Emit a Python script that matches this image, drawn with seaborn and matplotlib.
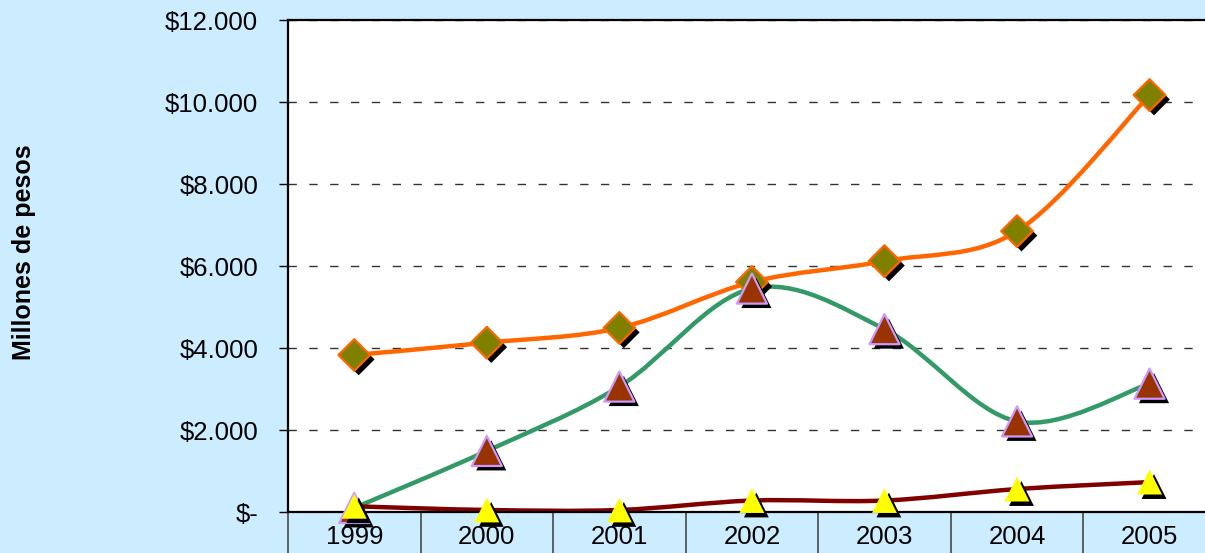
import numpy as np
import matplotlib
matplotlib.use('Agg')
import matplotlib.pyplot as plt
import matplotlib.patheffects as pe
from matplotlib.path import Path
from matplotlib.patches import PathPatch
from matplotlib.ticker import FuncFormatter, FixedLocator
import seaborn as sns

# data (millones de pesos)
years = ['1999', '2000', '2001', '2002', '2003', '2004', '2005']
serie_naranja = [3830, 4130, 4490, 5610, 6120, 6850, 10170]
serie_verde = [100, 1490, 3060, 5450, 4460, 2210, 3130]
serie_roja = [140, 50, 50, 280, 280, 560, 730]

y_ticks = [0, 2000, 4000, 6000, 8000, 10000, 12000]


def smooth_path(xs, ys):
    # Excel-style smoothed line (cubic bezier through the points)
    pts = np.column_stack([xs, ys]).astype(float)
    n = len(pts)
    verts = [pts[0]]
    codes = [Path.MOVETO]
    for i in range(n - 1):
        p0 = pts[i - 1] if i > 0 else pts[i]
        p1 = pts[i]
        p2 = pts[i + 1]
        p3 = pts[i + 2] if i + 2 < n else pts[i + 1]
        verts += [p1 + (p2 - p0) / 6, p2 - (p3 - p1) / 6, p2]
        codes += [Path.CURVE4] * 3
    return Path(verts, codes)


def fmt_pesos(v, pos):
    if v == 0:
        return '$-'
    return '$' + f'{int(v):,}'.replace(',', '.')


def main():
    sns.set_style('white')
    plt.rcParams['font.family'] = ['Liberation Sans', 'DejaVu Sans']
    plt.rcParams['text.color'] = 'black'
    plt.rcParams['axes.labelcolor'] = 'black'

    fig = plt.figure(figsize=(12.05, 5.53), dpi=100, facecolor='#CCECFF')
    ax = fig.add_axes([0.239, 0.0741, 0.770, 0.8897])
    ax.set_facecolor('white')

    x = np.arange(len(years))
    series = [
        (serie_naranja, '#FF6600', 'D', 260, '#808000', '#FF6600', 1.6),
        (serie_verde, '#339966', '^', 470, '#993300', '#CC99FF', 1.6),
        (serie_roja, '#800000', '^', 320, '#FFFF00', '#FFFF00', 0.0),
    ]

    # lines first
    for vals, lc, *_ in series:
        patch = PathPatch(smooth_path(x, vals), facecolor='none', edgecolor=lc,
                          lw=3.2, joinstyle='round', capstyle='round', zorder=2)
        ax.add_patch(patch)

    # markers with a drop shadow
    for k, (vals, lc, mk, s, fc, ec, elw) in enumerate(series):
        sns.scatterplot(x=x, y=vals, marker=mk, s=s, color=fc, edgecolor=ec,
                        linewidth=elw, ax=ax, zorder=4 + k, clip_on=False,
                        legend=False)
        ax.collections[-1].set_path_effects([
            pe.SimplePatchShadow(offset=(3.2, -3.2), shadow_rgbFace='black', alpha=1.0),
            pe.Normal()])

    ax.set_xlim(-0.5, len(years) - 0.5)
    ax.set_ylim(0, 12000)

    ax.set_yticks(y_ticks)
    ax.yaxis.set_major_formatter(FuncFormatter(fmt_pesos))
    ax.tick_params(axis='y', direction='out', length=6.5, width=1, color='black',
                   labelcolor='black', labelsize=18.5, pad=15, left=True)

    ax.set_xticks(x)
    ax.set_xticklabels(years)
    ax.xaxis.set_minor_locator(FixedLocator(np.arange(-0.5, len(years), 1.0)))
    ax.tick_params(axis='x', which='major', length=0, labelsize=18.5, pad=9,
                   labelcolor='black')
    ax.tick_params(axis='x', which='minor', length=40, width=1.3, color='#555555',
                   direction='out', bottom=True)

    ax.grid(axis='y', color='#333333', linestyle=(0, (6, 9)), linewidth=1)
    ax.grid(axis='x', visible=False)
    for side in ['left', 'top', 'bottom', 'right']:
        ax.spines[side].set_color('black')
        ax.spines[side].set_linewidth(1.6)
        ax.spines[side].set_visible(True)

    ax.set_ylabel('Millones de pesos', fontsize=18, fontweight='bold', color='black')
    ax.yaxis.set_label_coords(-0.272, 0.528)

    fig.savefig('out.png', dpi=100, facecolor=fig.get_facecolor())


if __name__ == '__main__':
    main()
